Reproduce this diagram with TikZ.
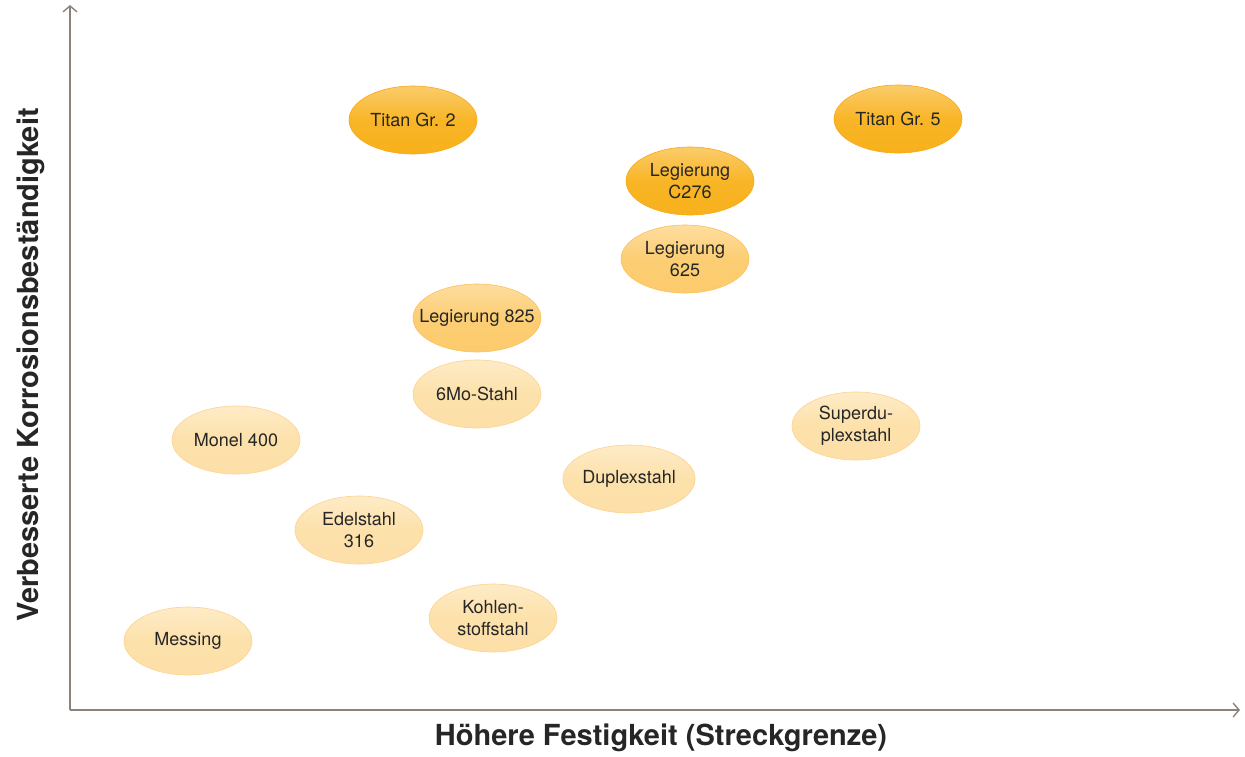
\documentclass[tikz,border=0pt]{standalone}
\usepackage{fontspec}
\setmainfont{TeX Gyre Heros}
\usepackage{tikz}
\usetikzlibrary{shapes.geometric,arrows.meta,positioning}
\definecolor{axisgray}{HTML}{8C8279}
\definecolor{darkgold}{HTML}{F8B11B}
\definecolor{midgold}{HTML}{FCCB6C}
\definecolor{lightgold}{HTML}{FDE0A8}
\tikzset{x=1pt, y=-1pt, >={Straight Barb[length=6pt,width=14pt,line width=1.4pt]}, font=\fontsize{18}{22}\selectfont}
\tikzstyle{alloy} = [ellipse, minimum width=128pt, minimum height=68pt, inner sep=0pt, text centered, align=center, text=black!85]
\tikzstyle{tierhigh} = [alloy, top color=darkgold!65!white, bottom color=darkgold, middle color=darkgold!95!white, draw=darkgold!80!orange, line width=0.6pt]
\tikzstyle{tiermid} = [alloy, top color=midgold!65!white, bottom color=midgold, middle color=midgold!95!white, draw=midgold!85!orange, line width=0.6pt]
\tikzstyle{tierlow} = [alloy, top color=lightgold!65!white, bottom color=lightgold, middle color=lightgold!97!white, draw=lightgold!85!orange, line width=0.6pt]
\tikzstyle{axislabel} = [font=\fontsize{29}{31}\selectfont\bfseries, text=black!85]

\begin{document}
\begin{tikzpicture}
    \useasboundingbox (0,0) rectangle (1245,756);
    % axes
    \coordinate (origin) at (70,710);
    \coordinate (y_end) at (70,5);
    \coordinate (x_end) at (1240,710);
    \draw [->, axisgray, line width=1.4pt] (origin) -- (y_end);
    \draw [->, axisgray, line width=1.4pt] (origin) -- (x_end);
    \node [axislabel] (x_label) at (661,738) {Höhere Festigkeit (Streckgrenze)};
    \node [axislabel, rotate=90] (y_label) at (31,365) {Verbesserte Korrosionsbeständigkeit};

    % materials
    \node [tierhigh] (titan_gr2) at (413,120) {Titan Gr. 2};
    \node [tierhigh] (titan_gr5) at (898,119) {Titan Gr. 5};
    \node [tierhigh] (leg_c276) at (690,181) {Legierung\\C276};
    \node [tiermid] (leg_625) at (685,259) {Legierung\\625};
    \node [tiermid, inner xsep=-14pt] (leg_825) at (477,318) {Legierung 825};
    \node [tierlow] (mo_stahl) at (477,394) {6Mo-Stahl};
    \node [tierlow] (monel) at (236,440) {Monel 400};
    \node [tierlow] (superduplex) at (856,426) {Superdu-\\plexstahl};
    \node [tierlow] (duplex) at (629,479) {Duplexstahl};
    \node [tierlow] (edelstahl) at (359,530) {Edelstahl\\316};
    \node [tierlow] (kohlenstoff) at (493,618) {Kohlen-\\stoffstahl};
    \node [tierlow] (messing) at (188,641) {Messing};
\end{tikzpicture}
\end{document}
